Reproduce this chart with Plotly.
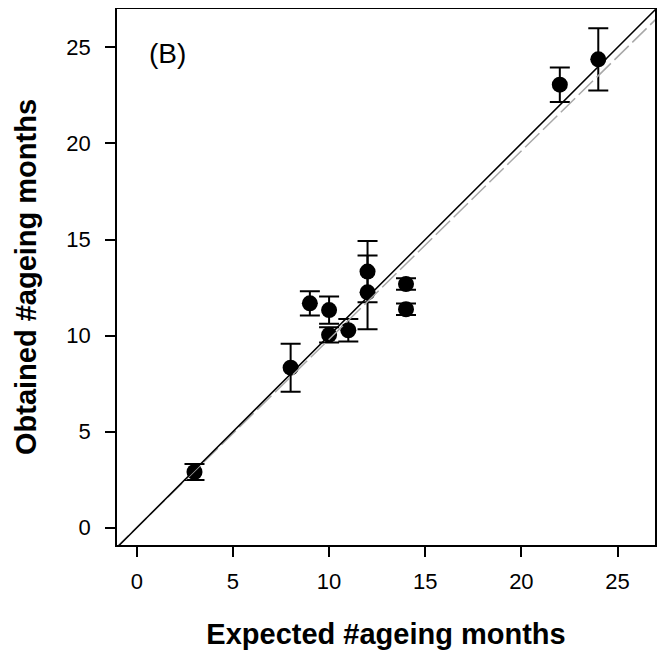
import plotly.graph_objects as go

# Data
expected = [3, 8, 9, 10, 10, 11, 12, 12, 14, 14, 22, 24]
obtained = [2.9, 8.33, 11.68, 11.33, 10.04, 10.28, 13.33, 12.25, 12.68, 11.37, 23.06, 24.38]
err = [0.42, 1.25, 0.63, 0.71, 0.40, 0.59, 1.60, 1.92, 0.30, 0.30, 0.90, 1.62]

# Reference lines: identity (solid) and fitted (dashed grey)
identity_line = {"intercept": 0.0, "slope": 1.0}
fit_line = {"intercept": 0.01, "slope": 0.98}

tick_vals = [0, 5, 10, 15, 20, 25]
tick_text = ["0", "5", "10", "15", "20", "25"]

x_range = [-1.03, 26.95]
y_range = [-0.9, 27.0]

FONT = "Liberation Sans, Arial"

fig = go.Figure()

fig.add_trace(go.Scatter(
    x=expected, y=obtained, mode="markers",
    marker=dict(color="black", size=16),
    error_y=dict(type="data", array=err, visible=True, color="black",
                 thickness=2, width=10),
    showlegend=False,
))

line_x = [x_range[0] - 2, x_range[1] + 2]
fig.add_trace(go.Scatter(
    x=line_x,
    y=[fit_line["intercept"] + fit_line["slope"] * v for v in line_x],
    mode="lines", line=dict(color="#a8a8a8", width=1.5, dash="20px,5px"),
    showlegend=False,
))
fig.add_trace(go.Scatter(
    x=line_x,
    y=[identity_line["intercept"] + identity_line["slope"] * v for v in line_x],
    mode="lines", line=dict(color="black", width=1.5),
    showlegend=False,
))

fig.add_annotation(x=1.6, y=24.7, xref="x", yref="y", text="(B)",
                   showarrow=False, font=dict(size=28, color="black", family=FONT))

axis_common = dict(
    showline=True, linecolor="black", linewidth=1.5, mirror=True,
    ticks="outside", ticklen=10, tickwidth=1.5, tickcolor="black",
    showgrid=False, zeroline=False, automargin=False,
    tickfont=dict(size=22, color="black", family=FONT),
    tickvals=tick_vals, ticktext=tick_text,
)

fig.update_layout(
    width=665, height=659,
    margin=dict(l=109, r=18, t=1, b=122),
    plot_bgcolor="white", paper_bgcolor="white",
    xaxis=dict(range=x_range, ticklabelstandoff=6, **axis_common,
               title=dict(text="<b>Expected #ageing months</b>", standoff=31,
                          font=dict(size=29, color="black", family=FONT))),
    yaxis=dict(range=y_range, ticklabelstandoff=10, **axis_common,
               title=dict(text="<b>Obtained #ageing months</b>", standoff=21,
                          font=dict(size=29, color="black", family=FONT))),
)

fig.write_html("out.html")
